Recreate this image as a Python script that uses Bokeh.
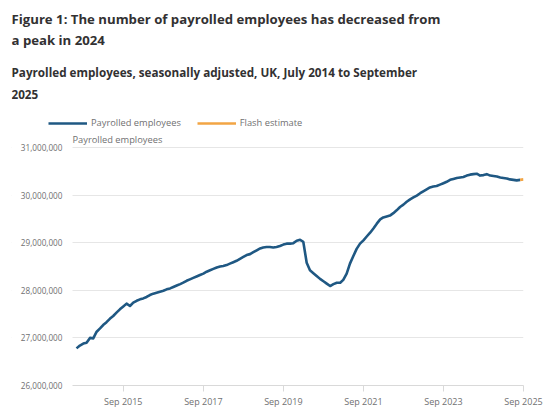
from datetime import datetime, timedelta
from bokeh.plotting import figure
from bokeh.models import (Range1d, FixedTicker, NumeralTickFormatter, Label,
                          Legend, LegendItem, BoxAnnotation)
from bokeh.embed import file_html
from bokeh.resources import INLINE

FONT = "Open Sans"
BLUE = "#1f5883"
ORANGE = "#f2a544"
GREY = "#707071"
DARK = "#323132"

# payrolled employees, seasonally adjusted, millions
first_month = "Jul 2014"
payrolled_2014 = [26.78, 26.84, 26.88, 26.90, 27.00, 26.99]
payrolled_2015 = [27.13, 27.20, 27.27, 27.33, 27.40, 27.46,
                  27.53, 27.60, 27.66, 27.72, 27.67, 27.74]
payrolled_2016 = [27.78, 27.81, 27.83, 27.86, 27.90, 27.93,
                  27.95, 27.97, 27.99, 28.02, 28.04, 28.07]
payrolled_2017 = [28.10, 28.13, 28.16, 28.20, 28.23, 28.26,
                  28.29, 28.32, 28.35, 28.39, 28.42, 28.45]
payrolled_2018 = [28.48, 28.50, 28.51, 28.53, 28.56, 28.59,
                  28.62, 28.66, 28.70, 28.74, 28.76, 28.80]
payrolled_2019 = [28.84, 28.88, 28.90, 28.91, 28.91, 28.90,
                  28.91, 28.93, 28.96, 28.98, 28.98, 28.99]
payrolled_2020 = [29.04, 29.06, 29.02, 28.58, 28.42, 28.36,
                  28.30, 28.24, 28.19, 28.14, 28.09, 28.13]
payrolled_2021 = [28.16, 28.16, 28.22, 28.35, 28.56, 28.72,
                  28.87, 28.98, 29.05, 29.13, 29.21, 29.30]
payrolled_2022 = [29.40, 29.49, 29.53, 29.55, 29.57, 29.62,
                  29.68, 29.75, 29.80, 29.86, 29.91, 29.95]
payrolled_2023 = [29.99, 30.04, 30.08, 30.12, 30.16, 30.18,
                  30.19, 30.22, 30.25, 30.28, 30.32, 30.34]
payrolled_2024 = [30.36, 30.37, 30.38, 30.41, 30.43, 30.44,
                  30.45, 30.41, 30.42, 30.44, 30.41, 30.40]
payrolled_2025 = [30.39, 30.37, 30.36, 30.35, 30.33, 30.32,
                  30.31, 30.32]

flash_months = ["Aug 2025", "Sep 2025"]
flash_values = [30.32, 30.33]

x_tick_labels = ["Sep 2015", "Sep 2017", "Sep 2019", "Sep 2021",
                 "Sep 2023", "Sep 2025"]
y_ticks = [26_000_000, 27_000_000, 28_000_000, 29_000_000,
           30_000_000, 31_000_000]

title_lines = ["Figure 1: The number of payrolled employees has decreased from",
               "a peak in 2024"]
subtitle_lines = ["Payrolled employees, seasonally adjusted, UK, July 2014 to September",
                  "2025"]
series_names = ["Payrolled employees", "Flash estimate"]


def month(label):
    return datetime.strptime(label, "%b %Y")


payrolled = (payrolled_2014 + payrolled_2015 + payrolled_2016 + payrolled_2017 +
             payrolled_2018 + payrolled_2019 + payrolled_2020 + payrolled_2021 +
             payrolled_2022 + payrolled_2023 + payrolled_2024 + payrolled_2025)
start = month(first_month)
end = month("Sep 2025")
dates = []
for i in range(len(payrolled)):
    m = start.month - 1 + i
    dates.append(datetime(start.year + m // 12, m % 12 + 1, 1))
values = [v * 1e6 for v in payrolled]
flash_x = [month(m) for m in flash_months]
flash_y = [v * 1e6 for v in flash_values]

# the frame covers the whole page apart from the axes, so that titles and
# legend can sit inside it; pixel positions below are page pixels
W, H = 550, 410
FRAME_L, FRAME_B = 11, 385
DATA_L, DATA_R = 76, 523          # first and last month
Y_TOP_PX, Y_BOT_PX = 147, 385     # 31m and 26m gridlines
px_day = (DATA_R - DATA_L) / (end - start).days
x_start = start - timedelta(days=(DATA_L - FRAME_L) / px_day)
grid_start = start - timedelta(days=4 / px_day)
px_unit = (Y_BOT_PX - Y_TOP_PX) / 5_000_000
y_end = 31_000_000 + Y_TOP_PX / px_unit

p = figure(width=W, height=H, x_axis_type="datetime",
           x_range=Range1d(x_start, end), y_range=Range1d(26_000_000, y_end),
           output_backend="svg", toolbar_location=None,
           min_border_left=FRAME_L, min_border_right=W - DATA_R,
           min_border_top=0, min_border_bottom=H - FRAME_B)
p.outline_line_color = None
p.extra_x_ranges = {"px": Range1d(FRAME_L, DATA_R)}
p.extra_y_ranges = {"px": Range1d(FRAME_B, 0)}

r_main = p.line(dates, values, line_color=BLUE, line_width=2.6,
                line_join="round")
r_flash = p.line(flash_x, flash_y, line_color=ORANGE, line_width=2.6)

tick_dates = [month(t) for t in x_tick_labels]
tick_ms = [(d - datetime(1970, 1, 1)).total_seconds() * 1000 for d in tick_dates]
p.xaxis.ticker = FixedTicker(ticks=tick_ms)
p.xaxis.major_label_overrides = dict(zip(tick_ms, x_tick_labels))
p.xaxis.bounds = (grid_start, end)
p.xaxis.axis_line_color = "#d9d9d9"
p.xaxis.major_tick_line_color = "#d9d9d9"
p.xaxis.major_tick_out = 6
p.xaxis.major_tick_in = 0
p.xaxis.minor_tick_line_color = None
p.xaxis.major_label_standoff = 3
p.xaxis.major_label_text_font_size = "9px"
p.xgrid.grid_line_color = None

p.yaxis.ticker = FixedTicker(ticks=y_ticks)
p.yaxis.formatter = NumeralTickFormatter(format="0,0")
p.yaxis.axis_line_color = None
p.yaxis.major_tick_line_color = None
p.yaxis.minor_tick_line_color = None
p.yaxis.major_tick_out = 0
p.yaxis.major_label_standoff = FRAME_L - 62   # labels end at x=62
p.yaxis.major_label_text_font_size = "8.2px"
p.ygrid.grid_line_color = "#e6e6e6"

for ax in (p.xaxis, p.yaxis):
    ax.major_label_text_font = FONT
    ax.major_label_text_color = GREY

# gridlines start just left of the first month, not under the tick labels
p.add_layout(BoxAnnotation(right=grid_start, fill_color="white", fill_alpha=1,
                           line_color=None, level="underlay"))

# y axis title sitting above the top gridline
p.add_layout(Label(x=start, y=31_000_000, x_offset=-4, y_offset=2,
                   text=series_names[0], text_font=FONT,
                   text_font_size="9.3px", text_color=GREY,
                   text_baseline="bottom"))


def add_text(txt, x, y, size):
    p.add_layout(Label(x=x, y=y, x_range_name="px", y_range_name="px",
                       text=txt, text_font=FONT, text_font_size=size,
                       text_font_style="bold", text_color=DARK,
                       text_baseline="middle"))


add_text(title_lines[0], 11, 18, "13.2px")
add_text(title_lines[1], 11, 39, "13.2px")
add_text(subtitle_lines[0], 11, 71, "11.7px")
add_text(subtitle_lines[1], 11, 94, "11.7px")

# legend row, bottom-left corner given relative to the frame
legend = Legend(items=[LegendItem(label=series_names[0], renderers=[r_main]),
                       LegendItem(label=series_names[1], renderers=[r_flash])],
                orientation="horizontal",
                location=(48 - FRAME_L, FRAME_B - 129),
                background_fill_alpha=0, border_line_color=None,
                padding=0, margin=0, spacing=16,
                glyph_width=39, glyph_height=12, label_height=12,
                label_standoff=4, label_text_font=FONT,
                label_text_font_size="9.3px", label_text_color=GREY)
p.add_layout(legend, "center")

open("out.html", "w").write(file_html(p, INLINE))
